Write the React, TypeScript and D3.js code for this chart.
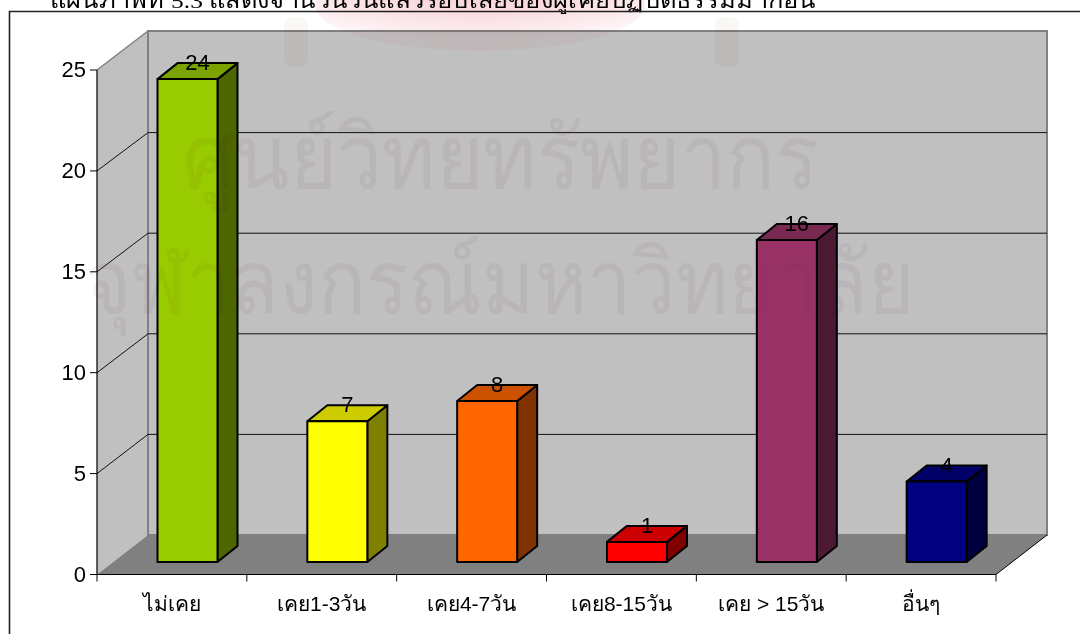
import * as d3 from 'd3';
import React from 'react';

const categories = ['ไม่เคย', 'เคย1-3วัน', 'เคย4-7วัน', 'เคย8-15วัน', 'เคย > 15วัน', 'อื่นๆ'];
const counts = [24, 7, 8, 1, 16, 4];
const barColors = ['#99cc00', '#ffff00', '#ff6600', '#ff0000', '#993366', '#000080'];
const yTicks = [0, 5, 10, 15, 20, 25];

const titleText = 'แผนภาพที่ 5.3 แสดงจำนวนวันแล้วรอบเสียของผู้เคยปฏิบัติธรรมมาก่อน';
const watermarkLines = ['ศูนย์วิทยทรัพยากร', 'จุฬาลงกรณ์มหาวิทยาลัย'];

const width = 1080;
const height = 634;
const font = '"Liberation Sans", Arial, "Noto Sans", sans-serif';

// front plane of the 3D box, and the back wall it is pushed back to
const x = d3.scaleBand<string>().domain(categories).range([97, 996]);
const y = d3.scaleLinear().domain([0, 25]).range([574.5, 70]);
const yBack = d3.scaleLinear().domain([0, 25]).range([535, 32]);
const depthX = 51;

// bars stand a little in from the front edge of the floor
const yBar = d3.scaleLinear().domain([0, 25]).range([562, 59]);
const barInset = 60.5;
const barWidth = 60;
const barDx = 20;
const barDy = -16;

const shade = (c: string, k: number) => {
  const rgb = d3.rgb(c);
  return d3.rgb(rgb.r * k, rgb.g * k, rgb.b * k).formatHex();
};
const poly = (pts: number[][]) => `M${pts.map((p) => p.join(',')).join('L')}Z`;

export default function App() {
  const left = x.range()[0];
  const right = x.range()[1];
  const backLeft = left + depthX;
  const backRight = right + depthX;
  const edges = [...categories.map((c) => x(c) as number), right];

  return (
    <svg
      width={width}
      height={height}
      viewBox={`0 0 ${width} ${height}`}
      style={{ position: 'absolute', left: 0, top: 0, background: '#fff' }}
    >
      <defs>
        <radialGradient id="crest" cx="0.5" cy="0.2" r="0.7">
          <stop offset="0" stopColor="#f5c4ce" />
          <stop offset="0.7" stopColor="#fae4e8" />
          <stop offset="1" stopColor="#fef6f7" />
        </radialGradient>
      </defs>

      <text x={50} y={8} fontFamily='"Liberation Serif", "Noto Sans", serif' fontSize={22} textLength={765} lengthAdjust="spacingAndGlyphs">
        {titleText}
      </text>
      <path d="M9.5,634V11.5H1080" fill="none" stroke="#222" strokeWidth={1.6} />

      {/* walls */}
      <path d={poly([[left, y(0)], [backLeft, yBack(0)], [backLeft, 31], [left, y(25)]])} fill="#c0c0c0" />
      <rect x={backLeft} y={31} width={backRight - backLeft} height={yBack(0) - 31} fill="#c0c0c0" stroke="#808080" strokeWidth={2} />
      <path d={`M${left},${y(25)}L${backLeft},31`} stroke="#808080" strokeWidth={1.5} fill="none" />
      <path d={poly([[left, y(0)], [right, y(0)], [backRight, yBack(0)], [backLeft, yBack(0)]])} fill="#808080" />
      <path d={`M${right},${y(0)}L${backRight},${yBack(0)}`} stroke="#000" strokeWidth={1} fill="none" />

      {/* gridlines */}
      {yTicks.filter((t) => t > 0 && t < 25).map((t) => (
        <path
          key={t}
          d={`M${left},${y(t)}L${backLeft},${yBack(t)}H${backRight}`}
          fill="none"
          stroke="#111"
          strokeWidth={1}
        />
      ))}

      {/* axes */}
      <path d={`M${left},${y(25)}V${y(0)}H${right}`} fill="none" stroke="#000" strokeWidth={1.2} />
      {yTicks.map((t) => (
        <g key={t}>
          <path d={`M${left - 7},${y(t)}H${left}`} stroke="#000" strokeWidth={1} />
          <text x={left - 11} y={y(t) + 7} textAnchor="end" fontFamily={font} fontSize={22}>
            {t}
          </text>
        </g>
      ))}
      {edges.map((e) => (
        <path key={e} d={`M${e},${y(0)}V${y(0) + 7}`} stroke="#000" strokeWidth={1} />
      ))}
      {categories.map((c) => (
        <text
          key={c}
          x={(x(c) as number) + x.bandwidth() / 2}
          y={611}
          textAnchor="middle"
          fontFamily={font}
          fontSize={21}
        >
          {c}
        </text>
      ))}

      {/* bars */}
      {categories.map((c, i) => {
        const x0 = (x(c) as number) + barInset;
        const x1 = x0 + barWidth;
        const top = yBar(counts[i]);
        const base = yBar(0);
        return (
          <g key={c} stroke="#000" strokeWidth={2} strokeLinejoin="round">
            <path d={poly([[x1, top], [x1 + barDx, top + barDy], [x1 + barDx, base + barDy], [x1, base]])} fill={shade(barColors[i], 0.5)} />
            <path d={poly([[x0, top], [x0 + barDx, top + barDy], [x1 + barDx, top + barDy], [x1, top]])} fill={shade(barColors[i], 0.8)} />
            <rect x={x0} y={top} width={barWidth} height={base - top} fill={barColors[i]} />
          </g>
        );
      })}
      {categories.map((c, i) => (
        <text
          key={c}
          x={(x(c) as number) + barInset + barWidth / 2 + barDx / 2}
          y={yBar(counts[i]) - 9}
          textAnchor="middle"
          fontFamily={font}
          fontSize={22}
        >
          {counts[i]}
        </text>
      ))}

      {/* scanned watermark sits over everything */}
      <g style={{ mixBlendMode: 'multiply' }}>
        <ellipse cx={480} cy={5} rx={165} ry={46} fill="url(#crest)" />
        <rect x={284} y={17} width={24} height={50} rx={8} fill="#f9f8f3" />
        <rect x={715} y={17} width={24} height={50} rx={8} fill="#f9f8f3" />
        <text x={183} y={188} fontFamily='"Noto Sans", sans-serif' fontSize={88} fill="#f8f1f6" textLength={635} lengthAdjust="spacingAndGlyphs">
          {watermarkLines[0]}
        </text>
        <text x={85} y={313} fontFamily='"Noto Sans", sans-serif' fontSize={88} fill="#f8f1f6" textLength={830} lengthAdjust="spacingAndGlyphs">
          {watermarkLines[1]}
        </text>
      </g>
    </svg>
  );
}
